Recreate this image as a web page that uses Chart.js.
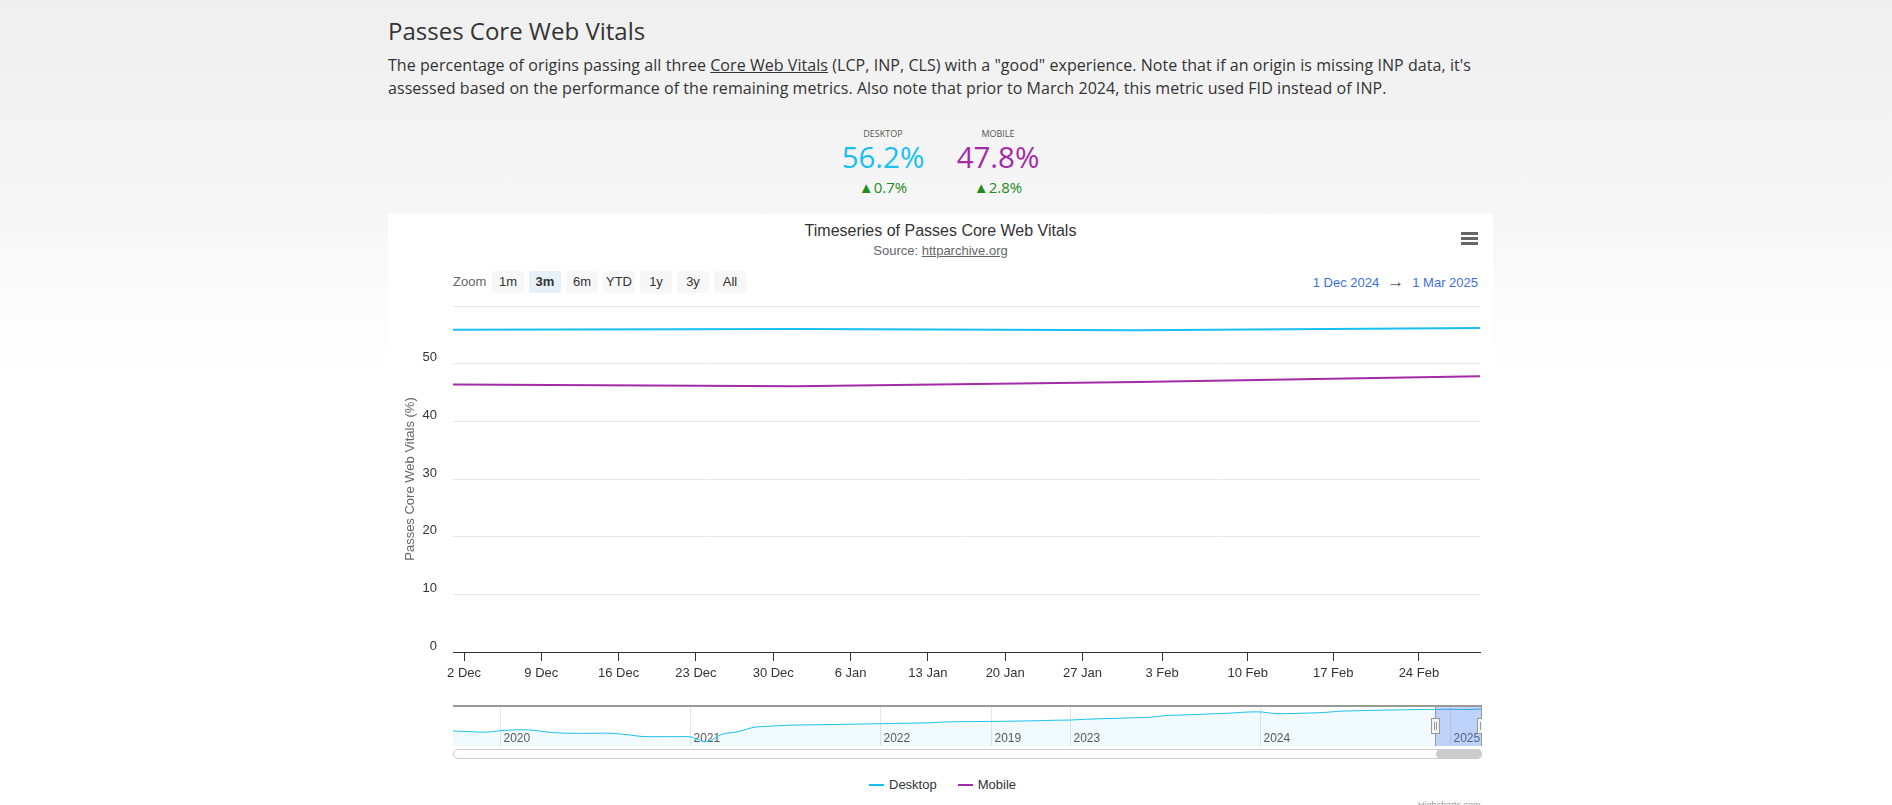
<!DOCTYPE html>
<html>
<head>
<meta charset="utf-8">
<script src="https://cdn.jsdelivr.net/npm/chart.js@4.4.1/dist/chart.umd.min.js"></script>
<style>
  html, body { margin: 0; padding: 0; }
  body {
    width: 1892px; height: 805px; overflow: hidden; position: relative;
    background: linear-gradient(#efefef 0px, #f6f6f6 200px, #ffffff 380px);
    font-family: "Open Sans", sans-serif; color: #333;
  }
  .abs { position: absolute; }
  h2 { position: absolute; margin: 0; left: 388px; top: 19px; font-size: 24px; line-height: 24px; font-weight: 400; color: #333; }
  .intro { position: absolute; margin: 0; left: 388px; top: 54px; width: 1110px; font-size: 16px; line-height: 23.3px; color: #333; letter-spacing: 0.06px; }
  .intro a { color: #333; }
  .metric { position: absolute; width: 115px; text-align: center; }
  .metric .lbl { position: absolute; left: 0; width: 100%; top: 128.7px; font-size: 9px; line-height: 9px; color: #555; }
  .metric .val { position: absolute; left: 0; width: 100%; top: 142px; font-size: 29.5px; line-height: 29.5px; }
  .metric .chg { position: absolute; left: 0; width: 100%; top: 180px; font-size: 15px; line-height: 15px; color: #1e8c1e; }
  .card { position: absolute; left: 388px; top: 214px; width: 1105px; height: 600px; background: #fff; }
  .hc { font-family: "Liberation Sans", Arial, sans-serif; }
  .ctitle { position: absolute; left: 388px; width: 1105px; top: 223px; text-align: center; font-size: 16px; line-height: 16px; color: #333; }
  .csub { position: absolute; left: 388px; width: 1105px; top: 244px; text-align: center; font-size: 13px; line-height: 13px; color: #666; }
  .csub a { color: #666; }
  .menu div { position: absolute; left: 1461px; width: 17px; height: 3px; background: #666; }
  .zoomlbl { position: absolute; left: 453px; top: 271px; font-size: 13px; line-height: 22px; color: #666; }
  .btns { position: absolute; left: 492px; top: 271px; display: flex; gap: 5px; }
  .btns span { width: 32px; height: 22px; line-height: 22px; text-align: center; font-size: 13px; color: #333; background: #f7f7f7; border-radius: 2px; }
  .btns span.on { background: #e6f0fb; font-weight: bold; }
  .range { position: absolute; right: calc(1892px - 1478px); top: 275px; font-size: 13px; line-height: 13px; color: #3d6fe0; white-space: nowrap; }
  .range .arr { color: #555; margin: 0 8px; font-size: 17px; }
  .legend { position: absolute; left: 869px; top: 778px; display: flex; gap: 21px; font-size: 13px; line-height: 14px; color: #333; }
  .legend .it { display: flex; align-items: center; }
  .legend .sym { width: 15px; height: 2px; margin-right: 5px; }
  .credit { position: absolute; left: 1418px; top: 801px; font-size: 9px; line-height: 9px; color: #999; }
  .track { position: absolute; left: 453px; top: 749px; width: 1027px; height: 8px; border: 1px solid #ccc; border-radius: 5px; background: #fff; }
  .thumb { position: absolute; left: 1436px; top: 749px; width: 46px; height: 10px; border-radius: 5px; background: #cccccc; }
</style>
</head>
<body>
<h2>Passes Core Web Vitals</h2>
<p class="intro">The percentage of origins passing all three <a href="#">Core Web Vitals</a> (LCP, INP, CLS) with a "good" experience. Note that if an origin is missing INP data, it's<br>assessed based on the performance of the remaining metrics. Also note that prior to March 2024, this metric used FID instead of INP.</p>

<div class="metric" style="left:825.5px; top:0">
  <div class="lbl">DESKTOP</div>
  <div class="val" id="desktopVal" style="color:#17bff2">56.2%</div>
  <div class="chg">▲0.7%</div>
</div>
<div class="metric" style="left:940.5px; top:0">
  <div class="lbl">MOBILE</div>
  <div class="val" id="mobileVal" style="color:#a42ba8">47.8%</div>
  <div class="chg">▲2.8%</div>
</div>

<div class="card"></div>
<div class="hc ctitle">Timeseries of Passes Core Web Vitals</div>
<div class="hc csub">Source: <a href="#">httparchive.org</a></div>
<div class="menu"><div style="top:232px"></div><div style="top:237px"></div><div style="top:242px"></div></div>
<div class="hc zoomlbl">Zoom</div>
<div class="hc btns"><span>1m</span><span class="on">3m</span><span>6m</span><span>YTD</span><span>1y</span><span>3y</span><span>All</span></div>
<div class="hc range">1 Dec 2024<span class="arr">→</span>1 Mar 2025</div>

<div class="abs" style="left:388px; top:296px; width:1102px; height:390px;">
  <canvas id="mainChart"></canvas>
</div>
<div class="abs" style="left:453px; top:705px; width:1029px; height:41px;">
  <canvas id="navChart"></canvas>
</div>
<div class="track"></div>
<div class="thumb"></div>

<div class="hc legend">
  <div class="it"><span class="sym" style="background:#17bff2"></span>Desktop</div>
  <div class="it"><span class="sym" style="background:#a42ba8"></span>Mobile</div>
</div>
<div class="hc credit">Highcharts.com</div>

<script>
// Données du graphique principal (points mensuels, axe ordinal)
const months = ['2024-12-01', '2025-01-01', '2025-02-01', '2025-03-01'];
const desktopValues = [55.9, 56.0, 55.8, 56.2];
const mobileValues = [46.4, 46.1, 46.8, 47.8];
const xTickDates = ['2024-12-02', '2024-12-09', '2024-12-16', '2024-12-23', '2024-12-30',
  '2025-01-06', '2025-01-13', '2025-01-20', '2025-01-27',
  '2025-02-03', '2025-02-10', '2025-02-17', '2025-02-24'];
const yTicks = [0, 10, 20, 30, 40, 50, 60];

// Navigateur : historique desktop mensuel, oct. 2019 -> mars 2025
const navStart = '2019-10';
const navDesktop = [40.6, 40.2, 39.8, 40.8, 41.5, 41.2, 39.8, 39.1, 39.0, 39.0,
  39.0, 38.0, 36.7, 36.6, 36.6, 36.5, 33.0, 38.3, 40.1, 43.2,
  44.0, 44.6, 44.9, 45.0, 45.2, 45.4, 45.6, 45.8, 46.0, 46.2,
  46.4, 47.0, 47.2, 47.3, 47.4, 47.5, 47.7, 47.9, 48.2, 48.4,
  48.9, 49.3, 49.6, 50.0, 50.3, 51.5, 51.9, 52.3, 52.8, 53.2,
  53.9, 54.1, 52.9, 53.0, 53.3, 53.7, 54.6, 54.9, 55.2, 55.4,
  55.6, 55.8, 55.9, 56.0, 55.8, 56.2];
const navTickLabels = ['2020', '2021', '2022', '2019', '2023', '2024', '2025'];
const navTickMonths = ['2020-01', '2021-01', '2022-01', '2022-08', '2023-01', '2024-01', '2025-01'];

const desktopColor = '#17bff2';
const mobileColor = '#a42ba8';
const hcFont = '"Liberation Sans", Arial, sans-serif';
const monthNames = ['Jan', 'Feb', 'Mar', 'Apr', 'May', 'Jun', 'Jul', 'Aug', 'Sep', 'Oct', 'Nov', 'Dec'];

// position ordinale : index du mois + fraction du mois
function ordinalPos(dateStr) {
  const [y, m, d] = dateStr.split('-').map(Number);
  const i = months.findIndex(s => s.startsWith(dateStr.slice(0, 7)));
  const days = new Date(y, m, 0).getDate();
  return i + (d - 1) / days;
}
function tickLabel(dateStr) {
  const [, m, d] = dateStr.split('-').map(Number);
  return d + ' ' + monthNames[m - 1];
}

const mainCtx = document.getElementById('mainChart').getContext('2d');
const mainChart = new Chart(mainCtx, {
  type: 'line',
  data: {
    datasets: [{
      label: 'Desktop',
      data: desktopValues.map((v, i) => ({ x: i, y: v })),
      borderColor: desktopColor,
      borderWidth: 2,
      pointRadius: 0,
      tension: 0
    }, {
      label: 'Mobile',
      data: mobileValues.map((v, i) => ({ x: i, y: v })),
      borderColor: mobileColor,
      borderWidth: 2,
      pointRadius: 0,
      tension: 0
    }]
  },
  options: {
    responsive: true,
    maintainAspectRatio: false,
    animation: false,
    layout: { padding: { top: 10, right: 10, left: 0, bottom: 0 } },
    plugins: { legend: { display: false }, tooltip: { enabled: false } },
    scales: {
      x: {
        type: 'linear',
        min: 0,
        max: months.length - 1,
        afterBuildTicks: scale => { scale.ticks = xTickDates.map(d => ({ value: ordinalPos(d) })); },
        afterFit: scale => { scale.height = 34; scale.paddingLeft = 0; scale.paddingRight = 0; },
        ticks: {
          autoSkip: false,
          maxRotation: 0,
          padding: 5,
          color: '#333',
          font: { family: hcFont, size: 13 },
          callback: (value, index) => tickLabel(xTickDates[index])
        },
        grid: { drawOnChartArea: false, drawTicks: true, tickLength: 9, tickColor: '#333', color: '#333' },
        border: { display: true, color: '#333', width: 1 }
      },
      y: {
        min: yTicks[0],
        max: yTicks[yTicks.length - 1],
        afterBuildTicks: scale => { scale.ticks = yTicks.map(v => ({ value: v })); },
        afterFit: scale => { scale.width = 65; scale.paddingTop = 0; scale.paddingBottom = 0; },
        ticks: {
          padding: 16,
          labelOffset: -6,
          color: '#333',
          font: { family: hcFont, size: 13 },
          callback: (value, index) => index === yTicks.length - 1 ? '' : String(value)
        },
        grid: { color: '#e6e6e6', drawTicks: false },
        border: { display: false },
        title: {
          display: true,
          text: 'Passes Core Web Vitals (%)',
          color: '#666',
          font: { family: hcFont, size: 13 },
          padding: { top: 15, bottom: 0 }
        }
      }
    }
  }
});

// mois du navigateur
const navMonths = [];
{
  let [y, m] = navStart.split('-').map(Number);
  for (let i = 0; i < navDesktop.length; i++) {
    navMonths.push(y + '-' + String(m).padStart(2, '0'));
    m++; if (m > 12) { m = 1; y++; }
  }
}

const navigatorDecor = {
  id: 'navigatorDecor',
  beforeDatasetsDraw(chart) {
    const { ctx, chartArea: a, scales: { x } } = chart;
    ctx.save();
    ctx.lineWidth = 1;
    ctx.strokeStyle = '#e6e6e6';
    ctx.font = '12px ' + hcFont;
    ctx.fillStyle = '#555';
    navTickMonths.forEach((m, i) => {
      const px = Math.round(x.getPixelForValue(navMonths.indexOf(m))) + 0.5;
      ctx.beginPath(); ctx.moveTo(px, a.top); ctx.lineTo(px, a.bottom); ctx.stroke();
      ctx.fillText(navTickLabels[i], px + 3, a.bottom - 4);
    });
    ctx.restore();
  },
  afterDraw(chart) {
    const { ctx, chartArea: a, scales: { x } } = chart;
    const x0 = Math.round(x.getPixelForValue(navMonths.indexOf(months[0].slice(0, 7))));
    const x1 = Math.round(x.getPixelForValue(navMonths.indexOf(months[months.length - 1].slice(0, 7))));
    ctx.save();
    ctx.fillStyle = 'rgba(72,112,238,0.3)';
    ctx.fillRect(x0, a.top, x1 - x0, a.bottom - a.top);
    ctx.strokeStyle = '#999';
    ctx.lineWidth = 2;
    ctx.beginPath(); ctx.moveTo(a.left, a.top + 1); ctx.lineTo(a.right, a.top + 1); ctx.stroke();
    ctx.lineWidth = 1;
    ctx.beginPath();
    ctx.moveTo(x0 + 0.5, a.top); ctx.lineTo(x0 + 0.5, a.bottom);
    ctx.moveTo(x1 - 0.5, a.top); ctx.lineTo(x1 - 0.5, a.bottom);
    ctx.stroke();
    // poignées
    [x0, x1 - 1].forEach(hx => {
      const top = a.top + 13;
      ctx.fillStyle = '#f2f2f2';
      ctx.fillRect(hx - 3.5, top, 8, 15);
      ctx.strokeStyle = '#999';
      ctx.strokeRect(hx - 3.5, top + 0.5, 8, 15);
      ctx.beginPath();
      ctx.moveTo(hx - 0.5, top + 4); ctx.lineTo(hx - 0.5, top + 12);
      ctx.moveTo(hx + 1.5, top + 4); ctx.lineTo(hx + 1.5, top + 12);
      ctx.stroke();
    });
    ctx.restore();
  }
};

const navCtx = document.getElementById('navChart').getContext('2d');
const navChart = new Chart(navCtx, {
  type: 'line',
  data: {
    datasets: [{
      label: 'Desktop',
      data: navDesktop.map((v, i) => ({ x: i, y: v })),
      borderColor: desktopColor,
      borderWidth: 1,
      backgroundColor: 'rgba(23,191,242,0.06)',
      fill: 'start',
      pointRadius: 0,
      tension: 0.3
    }]
  },
  options: {
    responsive: true,
    maintainAspectRatio: false,
    animation: false,
    layout: { padding: 0 },
    plugins: { legend: { display: false }, tooltip: { enabled: false } },
    scales: {
      x: { type: 'linear', display: false, min: 0, max: navDesktop.length - 1 },
      y: { display: false, min: 30, max: 59 }
    }
  },
  plugins: [navigatorDecor]
});
</script>
</body>
</html>
